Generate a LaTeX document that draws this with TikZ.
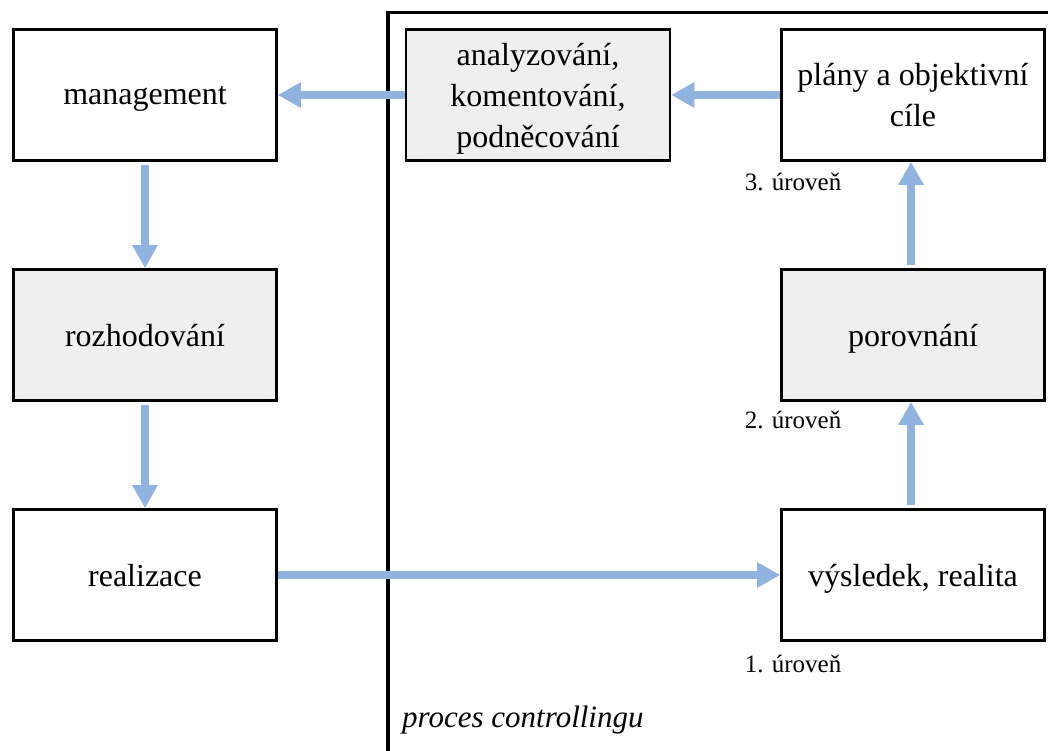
\documentclass[tikz,border=0pt]{standalone}
\usepackage{fontspec}
\setmainfont{Liberation Serif}
\usetikzlibrary{arrows.meta}
\definecolor{arrblue}{HTML}{8FB3DE}
\definecolor{boxgray}{HTML}{EEEFF1}
\tikzset{
  box/.style={draw=black, line width=2.6pt, minimum width=263pt, minimum height=131pt, inner sep=0pt, align=center, text depth=0pt, font=\fontsize{32}{41}\selectfont},
  graybox/.style={box, fill=boxgray},
  flow/.style={draw=arrblue, line width=8pt, -{Triangle[width=24pt,length=23pt]}},
  lvl/.style={font=\fontsize{25}{30}\selectfont, inner sep=0pt}
}
\begin{document}
\begin{tikzpicture}[x=1pt,y=-1pt]
\useasboundingbox (0,0) rectangle (1048,751);
% controlling frame
\draw[line width=3pt] (388,13) -- (1048,13);
\draw[line width=4pt] (388,11.5) -- (388,751);
% boxes
\node[box] (man) at (145,95) {management};
\node[graybox] (roz) at (145,335) {rozhodování};
\node[box] (rea) at (145,575) {realizace};
\node[graybox, minimum width=264pt] (ana) at (538,95) {analyzování,\\komentování,\\podněcování};
\node[box] (pla) at (913,95) {plány a objektivní\\cíle};
\node[graybox] (por) at (913,335) {porovnání};
\node[box] (vys) at (913,575) {výsledek, realita};
% labels
\node[lvl] (l3) at (793,182) {3. úroveň};
\node[lvl] (l2) at (793,420) {2. úroveň};
\node[lvl] (l1) at (793,664) {1. úroveň};
\node[font=\itshape\fontsize{31}{36}\selectfont, anchor=west, inner sep=0pt] (pc) at (402,720) {proces controllingu};
% arrows
\draw[flow] (ana.west) -- (man.east);
\draw[flow] (pla.west) -- (ana.east);
\draw[flow, shorten <=3pt] (man.south) -- (roz.north);
\draw[flow, shorten <=3pt] (roz.south) -- (rea.north);
\draw[flow] (rea.east) -- (vys.west);
\draw[flow, shorten <=3pt] ([xshift=-2pt]vys.north) -- ([xshift=-2pt]por.south);
\draw[flow, shorten <=3pt] ([xshift=-2pt]por.north) -- ([xshift=-2pt]pla.south);
\end{tikzpicture}
\end{document}
